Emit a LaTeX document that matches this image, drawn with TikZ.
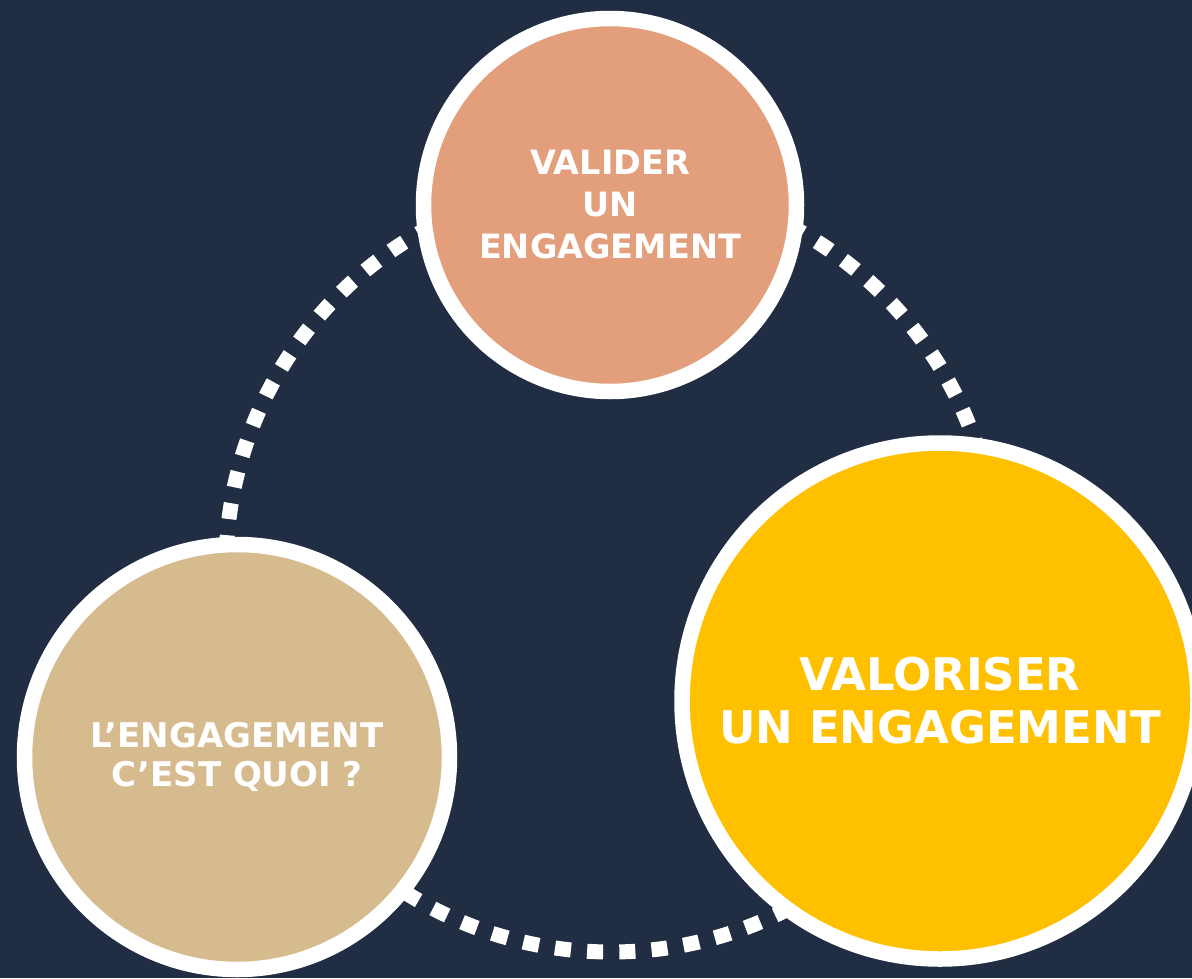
\documentclass[tikz,border=0pt]{standalone}
\usepackage{fontspec}
\setmainfont{DejaVu Sans}
\usepackage{xcolor}
\usetikzlibrary{calc}
\definecolor{navy}{HTML}{212D43}
\definecolor{salmon}{HTML}{E39F7B}
\definecolor{sand}{HTML}{D6BB8F}
\definecolor{gold}{HTML}{FFC000}

\tikzset{
 bubble/.style={circle, draw=white, line width=15.5pt, text=white, align=center, inner sep=0pt},
 ring/.style={white, line width=15pt, dash pattern=on 16pt off 16.25pt}
}

\begin{document}
\begin{tikzpicture}[x=1pt, y=-1pt]
\useasboundingbox (0,0) rectangle (1192,978);
\fill[navy] (0,0) rectangle (1192,978);
\coordinate (hub) at (611,567);
\draw[ring] (hub) circle[radius=385];
\node[bubble, fill=salmon, minimum size=373pt, font=\bfseries\fontsize{33.5}{42}\selectfont] (valider) at (610,205) {VALIDER\\UN\\ENGAGEMENT};
\node[bubble, fill=sand, minimum size=425pt, font=\bfseries\fontsize{34}{39}\selectfont] (quoi) at (237,757) {L’ENGAGEMENT\\C’EST QUOI ?};
\node[bubble, fill=gold, minimum size=516pt, font=\bfseries\fontsize{45}{53}\selectfont] (valoriser) at (940,701) {VALORISER\\UN ENGAGEMENT};
\end{tikzpicture}
\end{document}
